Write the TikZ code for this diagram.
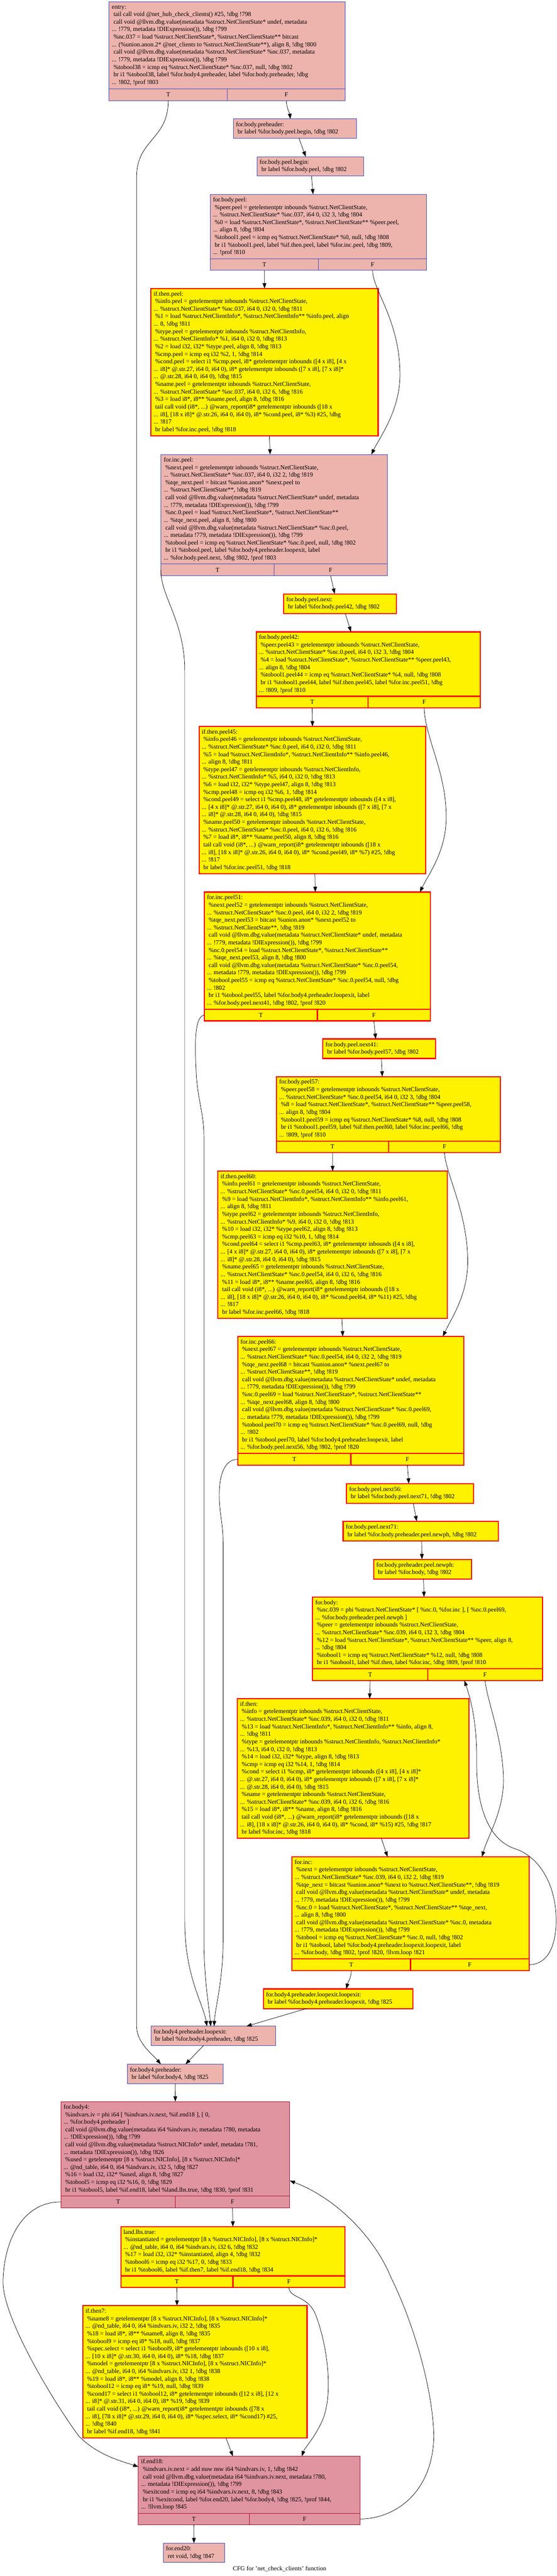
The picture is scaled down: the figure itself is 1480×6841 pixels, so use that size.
\documentclass[tikz,border=0pt]{standalone}
\usepackage{fontspec}
\setmainfont{Liberation Serif}
\usetikzlibrary{arrows.meta}
\definecolor{pinkfill}{RGB}{237,179,173}
\definecolor{pinkline}{RGB}{61,80,195}
\definecolor{critfill}{RGB}{223,148,160}
\definecolor{critline}{RGB}{183,13,40}
\newcommand{\myin}{\hspace*{4.5pt}}
\tikzset{
  pinkbox/.style={draw=pinkline, fill=pinkfill, line width=1.3pt, rectangle, inner sep=0pt, outer sep=0pt},
  critbox/.style={draw=critline, fill=critfill, line width=1.3pt, rectangle, inner sep=0pt, outer sep=0pt},
  hotbox/.style={draw=red, fill=yellow, line width=3pt, rectangle, inner sep=0pt, outer sep=0pt},
  txt/.style={anchor=west, inner sep=0pt, align=left, font=\fontsize{16.5pt}{20pt}\selectfont},
  cell/.style={minimum height=31pt, anchor=north west, font=\fontsize{16.5pt}{20pt}\selectfont},
  cfgedge/.style={draw=black, line width=1pt, -{Triangle[length=14pt,width=10pt]}}
}
\begin{document}
\begin{tikzpicture}[x=1pt, y=-1pt]
\useasboundingbox[fill=white] (0,0) rectangle (1480,6841);

% ---------- entry
\node[pinkbox, anchor=north west, minimum width=628pt, minimum height=231pt] (entry) at (290,5) {};
\node[txt] (entry-l) at ([xshift=7pt]entry.west) {entry:\\
\myin tail call void @net\_hub\_check\_clients() \#25, !dbg !798\\
\myin call void @llvm.dbg.value(metadata \%struct.NetClientState* undef, metadata\\
... !779, metadata !DIExpression()), !dbg !799\\
\myin \%nc.037 = load \%struct.NetClientState*, \%struct.NetClientState** bitcast\\
... (\%union.anon.2* @net\_clients to \%struct.NetClientState**), align 8, !dbg !800\\
\myin call void @llvm.dbg.value(metadata \%struct.NetClientState* \%nc.037, metadata\\
... !779, metadata !DIExpression()), !dbg !799\\
\myin \%tobool38 = icmp eq \%struct.NetClientState* \%nc.037, null, !dbg !802\\
\myin br i1 \%tobool38, label \%for.body4.preheader, label \%for.body.preheader, !dbg\\
... !802, !prof !803};
\node[pinkbox, cell, minimum width=314pt] (entryT) at (entry.south west) {T};
\node[pinkbox, cell, minimum width=314pt] (entryF) at (entryT.north east) {F};

% ---------- for.body.preheader
\node[pinkbox, anchor=north west, minimum width=327pt, minimum height=51pt] (fbph) at (620,316) {};
\node[txt] (fbph-l) at ([xshift=7pt]fbph.west) {for.body.preheader:\\
\myin br label \%for.body.peel.begin, !dbg !802};

% ---------- for.body.peel.begin
\node[pinkbox, anchor=north west, minimum width=283pt, minimum height=51pt] (fbpb) at (683,416) {};
\node[txt] (fbpb-l) at ([xshift=7pt]fbpb.west) {for.body.peel.begin:\\
\myin br label \%for.body.peel, !dbg !802};

% ---------- for.body.peel
\node[pinkbox, anchor=north west, minimum width=575pt, minimum height=171pt] (fbp) at (559,516) {};
\node[txt] (fbp-l) at ([xshift=7pt]fbp.west) {for.body.peel:\\
\myin \%peer.peel = getelementptr inbounds \%struct.NetClientState,\\
... \%struct.NetClientState* \%nc.037, i64 0, i32 3, !dbg !804\\
\myin \%0 = load \%struct.NetClientState*, \%struct.NetClientState** \%peer.peel,\\
... align 8, !dbg !804\\
\myin \%tobool1.peel = icmp eq \%struct.NetClientState* \%0, null, !dbg !808\\
\myin br i1 \%tobool1.peel, label \%if.then.peel, label \%for.inc.peel, !dbg !809,\\
... !prof !810};
\node[pinkbox, cell, minimum width=287.5pt] (fbpT) at (fbp.south west) {T};
\node[pinkbox, cell, minimum width=287.5pt] (fbpF) at (fbpT.north east) {F};

% ---------- if.then.peel
\node[hotbox, anchor=north west, minimum width=604pt, minimum height=391pt] (itp) at (401,766) {};
\node[txt] (itp-l) at ([xshift=7pt]itp.west) {if.then.peel:\\
\myin \%info.peel = getelementptr inbounds \%struct.NetClientState,\\
... \%struct.NetClientState* \%nc.037, i64 0, i32 0, !dbg !811\\
\myin \%1 = load \%struct.NetClientInfo*, \%struct.NetClientInfo** \%info.peel, align\\
... 8, !dbg !811\\
\myin \%type.peel = getelementptr inbounds \%struct.NetClientInfo,\\
... \%struct.NetClientInfo* \%1, i64 0, i32 0, !dbg !813\\
\myin \%2 = load i32, i32* \%type.peel, align 8, !dbg !813\\
\myin \%cmp.peel = icmp eq i32 \%2, 1, !dbg !814\\
\myin \%cond.peel = select i1 \%cmp.peel, i8* getelementptr inbounds ([4 x i8], [4 x\\
... i8]* @.str.27, i64 0, i64 0), i8* getelementptr inbounds ([7 x i8], [7 x i8]*\\
... @.str.28, i64 0, i64 0), !dbg !815\\
\myin \%name.peel = getelementptr inbounds \%struct.NetClientState,\\
... \%struct.NetClientState* \%nc.037, i64 0, i32 6, !dbg !816\\
\myin \%3 = load i8*, i8** \%name.peel, align 8, !dbg !816\\
\myin tail call void (i8*, ...) @warn\_report(i8* getelementptr inbounds ([18 x\\
... i8], [18 x i8]* @.str.26, i64 0, i64 0), i8* \%cond.peel, i8* \%3) \#25, !dbg\\
... !817\\
\myin br label \%for.inc.peel, !dbg !818};

% ---------- for.inc.peel
\node[pinkbox, anchor=north west, minimum width=601pt, minimum height=291pt] (fip) at (428,1207) {};
\node[txt] (fip-l) at ([xshift=7pt]fip.west) {for.inc.peel:\\
\myin \%next.peel = getelementptr inbounds \%struct.NetClientState,\\
... \%struct.NetClientState* \%nc.037, i64 0, i32 2, !dbg !819\\
\myin \%tqe\_next.peel = bitcast \%union.anon* \%next.peel to\\
... \%struct.NetClientState**, !dbg !819\\
\myin call void @llvm.dbg.value(metadata \%struct.NetClientState* undef, metadata\\
... !779, metadata !DIExpression()), !dbg !799\\
\myin \%nc.0.peel = load \%struct.NetClientState*, \%struct.NetClientState**\\
... \%tqe\_next.peel, align 8, !dbg !800\\
\myin call void @llvm.dbg.value(metadata \%struct.NetClientState* \%nc.0.peel,\\
... metadata !779, metadata !DIExpression()), !dbg !799\\
\myin \%tobool.peel = icmp eq \%struct.NetClientState* \%nc.0.peel, null, !dbg !802\\
\myin br i1 \%tobool.peel, label \%for.body4.preheader.loopexit, label\\
... \%for.body.peel.next, !dbg !802, !prof !803};
\node[pinkbox, cell, minimum width=300.5pt] (fipT) at (fip.south west) {T};
\node[pinkbox, cell, minimum width=300.5pt] (fipF) at (fipT.north east) {F};

% ---------- for.body.peel.next
\node[hotbox, anchor=north west, minimum width=300pt, minimum height=52pt] (fbpn) at (754,1577) {};
\node[txt] (fbpn-l) at ([xshift=7pt]fbpn.west) {for.body.peel.next:\\
\myin br label \%for.body.peel42, !dbg !802};

% ---------- for.body.peel42
\node[hotbox, anchor=north west, minimum width=595pt, minimum height=171pt] (fbp42) at (681,1678) {};
\node[txt] (fbp42-l) at ([xshift=7pt]fbp42.west) {for.body.peel42:\\
\myin \%peer.peel43 = getelementptr inbounds \%struct.NetClientState,\\
... \%struct.NetClientState* \%nc.0.peel, i64 0, i32 3, !dbg !804\\
\myin \%4 = load \%struct.NetClientState*, \%struct.NetClientState** \%peer.peel43,\\
... align 8, !dbg !804\\
\myin \%tobool1.peel44 = icmp eq \%struct.NetClientState* \%4, null, !dbg !808\\
\myin br i1 \%tobool1.peel44, label \%if.then.peel45, label \%for.inc.peel51, !dbg\\
... !809, !prof !810};
\node[hotbox, cell, minimum width=297.5pt] (fbp42T) at (fbp42.south west) {T};
\node[hotbox, cell, minimum width=297.5pt] (fbp42F) at (fbp42T.north east) {F};

% ---------- if.then.peel45
\node[hotbox, anchor=north west, minimum width=603pt, minimum height=391pt] (itp45) at (529,1929) {};
\node[txt] (itp45-l) at ([xshift=7pt]itp45.west) {if.then.peel45:\\
\myin \%info.peel46 = getelementptr inbounds \%struct.NetClientState,\\
... \%struct.NetClientState* \%nc.0.peel, i64 0, i32 0, !dbg !811\\
\myin \%5 = load \%struct.NetClientInfo*, \%struct.NetClientInfo** \%info.peel46,\\
... align 8, !dbg !811\\
\myin \%type.peel47 = getelementptr inbounds \%struct.NetClientInfo,\\
... \%struct.NetClientInfo* \%5, i64 0, i32 0, !dbg !813\\
\myin \%6 = load i32, i32* \%type.peel47, align 8, !dbg !813\\
\myin \%cmp.peel48 = icmp eq i32 \%6, 1, !dbg !814\\
\myin \%cond.peel49 = select i1 \%cmp.peel48, i8* getelementptr inbounds ([4 x i8],\\
... [4 x i8]* @.str.27, i64 0, i64 0), i8* getelementptr inbounds ([7 x i8], [7 x\\
... i8]* @.str.28, i64 0, i64 0), !dbg !815\\
\myin \%name.peel50 = getelementptr inbounds \%struct.NetClientState,\\
... \%struct.NetClientState* \%nc.0.peel, i64 0, i32 6, !dbg !816\\
\myin \%7 = load i8*, i8** \%name.peel50, align 8, !dbg !816\\
\myin tail call void (i8*, ...) @warn\_report(i8* getelementptr inbounds ([18 x\\
... i8], [18 x i8]* @.str.26, i64 0, i64 0), i8* \%cond.peel49, i8* \%7) \#25, !dbg\\
... !817\\
\myin br label \%for.inc.peel51, !dbg !818};

% ---------- for.inc.peel51
\node[hotbox, anchor=north west, minimum width=601pt, minimum height=311pt] (fip51) at (543,2369) {};
\node[txt] (fip51-l) at ([xshift=7pt]fip51.west) {for.inc.peel51:\\
\myin \%next.peel52 = getelementptr inbounds \%struct.NetClientState,\\
... \%struct.NetClientState* \%nc.0.peel, i64 0, i32 2, !dbg !819\\
\myin \%tqe\_next.peel53 = bitcast \%union.anon* \%next.peel52 to\\
... \%struct.NetClientState**, !dbg !819\\
\myin call void @llvm.dbg.value(metadata \%struct.NetClientState* undef, metadata\\
... !779, metadata !DIExpression()), !dbg !799\\
\myin \%nc.0.peel54 = load \%struct.NetClientState*, \%struct.NetClientState**\\
... \%tqe\_next.peel53, align 8, !dbg !800\\
\myin call void @llvm.dbg.value(metadata \%struct.NetClientState* \%nc.0.peel54,\\
... metadata !779, metadata !DIExpression()), !dbg !799\\
\myin \%tobool.peel55 = icmp eq \%struct.NetClientState* \%nc.0.peel54, null, !dbg\\
... !802\\
\myin br i1 \%tobool.peel55, label \%for.body4.preheader.loopexit, label\\
... \%for.body.peel.next41, !dbg !802, !prof !820};
\node[hotbox, cell, minimum width=300.5pt] (fip51T) at (fip51.south west) {T};
\node[hotbox, cell, minimum width=300.5pt] (fip51F) at (fip51T.north east) {F};

% ---------- for.body.peel.next41
\node[hotbox, anchor=north west, minimum width=300pt, minimum height=52pt] (fbpn41) at (858,2759) {};
\node[txt] (fbpn41-l) at ([xshift=7pt]fbpn41.west) {for.body.peel.next41:\\
\myin br label \%for.body.peel57, !dbg !802};

% ---------- for.body.peel57
\node[hotbox, anchor=north west, minimum width=595pt, minimum height=171pt] (fbp57) at (735,2859) {};
\node[txt] (fbp57-l) at ([xshift=7pt]fbp57.west) {for.body.peel57:\\
\myin \%peer.peel58 = getelementptr inbounds \%struct.NetClientState,\\
... \%struct.NetClientState* \%nc.0.peel54, i64 0, i32 3, !dbg !804\\
\myin \%8 = load \%struct.NetClientState*, \%struct.NetClientState** \%peer.peel58,\\
... align 8, !dbg !804\\
\myin \%tobool1.peel59 = icmp eq \%struct.NetClientState* \%8, null, !dbg !808\\
\myin br i1 \%tobool1.peel59, label \%if.then.peel60, label \%for.inc.peel66, !dbg\\
... !809, !prof !810};
\node[hotbox, cell, minimum width=297.5pt] (fbp57T) at (fbp57.south west) {T};
\node[hotbox, cell, minimum width=297.5pt] (fbp57F) at (fbp57T.north east) {F};

% ---------- if.then.peel60
\node[hotbox, anchor=north west, minimum width=610pt, minimum height=391pt] (itp60) at (579,3110) {};
\node[txt] (itp60-l) at ([xshift=7pt]itp60.west) {if.then.peel60:\\
\myin \%info.peel61 = getelementptr inbounds \%struct.NetClientState,\\
... \%struct.NetClientState* \%nc.0.peel54, i64 0, i32 0, !dbg !811\\
\myin \%9 = load \%struct.NetClientInfo*, \%struct.NetClientInfo** \%info.peel61,\\
... align 8, !dbg !811\\
\myin \%type.peel62 = getelementptr inbounds \%struct.NetClientInfo,\\
... \%struct.NetClientInfo* \%9, i64 0, i32 0, !dbg !813\\
\myin \%10 = load i32, i32* \%type.peel62, align 8, !dbg !813\\
\myin \%cmp.peel63 = icmp eq i32 \%10, 1, !dbg !814\\
\myin \%cond.peel64 = select i1 \%cmp.peel63, i8* getelementptr inbounds ([4 x i8],\\
... [4 x i8]* @.str.27, i64 0, i64 0), i8* getelementptr inbounds ([7 x i8], [7 x\\
... i8]* @.str.28, i64 0, i64 0), !dbg !815\\
\myin \%name.peel65 = getelementptr inbounds \%struct.NetClientState,\\
... \%struct.NetClientState* \%nc.0.peel54, i64 0, i32 6, !dbg !816\\
\myin \%11 = load i8*, i8** \%name.peel65, align 8, !dbg !816\\
\myin tail call void (i8*, ...) @warn\_report(i8* getelementptr inbounds ([18 x\\
... i8], [18 x i8]* @.str.26, i64 0, i64 0), i8* \%cond.peel64, i8* \%11) \#25, !dbg\\
... !817\\
\myin br label \%for.inc.peel66, !dbg !818};

% ---------- for.inc.peel66
\node[hotbox, anchor=north west, minimum width=601pt, minimum height=311pt] (fip66) at (632,3549) {};
\node[txt] (fip66-l) at ([xshift=7pt]fip66.west) {for.inc.peel66:\\
\myin \%next.peel67 = getelementptr inbounds \%struct.NetClientState,\\
... \%struct.NetClientState* \%nc.0.peel54, i64 0, i32 2, !dbg !819\\
\myin \%tqe\_next.peel68 = bitcast \%union.anon* \%next.peel67 to\\
... \%struct.NetClientState**, !dbg !819\\
\myin call void @llvm.dbg.value(metadata \%struct.NetClientState* undef, metadata\\
... !779, metadata !DIExpression()), !dbg !799\\
\myin \%nc.0.peel69 = load \%struct.NetClientState*, \%struct.NetClientState**\\
... \%tqe\_next.peel68, align 8, !dbg !800\\
\myin call void @llvm.dbg.value(metadata \%struct.NetClientState* \%nc.0.peel69,\\
... metadata !779, metadata !DIExpression()), !dbg !799\\
\myin \%tobool.peel70 = icmp eq \%struct.NetClientState* \%nc.0.peel69, null, !dbg\\
... !802\\
\myin br i1 \%tobool.peel70, label \%for.body4.preheader.loopexit, label\\
... \%for.body.peel.next56, !dbg !802, !prof !820};
\node[hotbox, cell, minimum width=300.5pt] (fip66T) at (fip66.south west) {T};
\node[hotbox, cell, minimum width=300.5pt] (fip66F) at (fip66T.north east) {F};

% ---------- for.body.peel.next56
\node[hotbox, anchor=north west, minimum width=338pt, minimum height=52pt] (fbpn56) at (921,3940) {};
\node[txt] (fbpn56-l) at ([xshift=7pt]fbpn56.west) {for.body.peel.next56:\\
\myin br label \%for.body.peel.next71, !dbg !802};

% ---------- for.body.peel.next71
\node[hotbox, anchor=north west, minimum width=412pt, minimum height=52pt] (fbpn71) at (912,4040) {};
\node[txt] (fbpn71-l) at ([xshift=7pt]fbpn71.west) {for.body.peel.next71:\\
\myin br label \%for.body.preheader.peel.newph, !dbg !802};

% ---------- for.body.preheader.peel.newph
\node[hotbox, anchor=north west, minimum width=260pt, minimum height=52pt] (newph) at (993,4141) {};
\node[txt] (newph-l) at ([xshift=7pt]newph.west) {for.body.preheader.peel.newph:\\
\myin br label \%for.body, !dbg !802};

% ---------- for.body
\node[hotbox, anchor=north west, minimum width=611pt, minimum height=191pt] (fb) at (831,4241) {};
\node[txt] (fb-l) at ([xshift=7pt]fb.west) {for.body:\\
\myin \%nc.039 = phi \%struct.NetClientState* [ \%nc.0, \%for.inc ], [ \%nc.0.peel69,\\
... \%for.body.preheader.peel.newph ]\\
\myin \%peer = getelementptr inbounds \%struct.NetClientState,\\
... \%struct.NetClientState* \%nc.039, i64 0, i32 3, !dbg !804\\
\myin \%12 = load \%struct.NetClientState*, \%struct.NetClientState** \%peer, align 8,\\
... !dbg !804\\
\myin \%tobool1 = icmp eq \%struct.NetClientState* \%12, null, !dbg !808\\
\myin br i1 \%tobool1, label \%if.then, label \%for.inc, !dbg !809, !prof !810};
\node[hotbox, cell, minimum width=305.5pt] (fbT) at (fb.south west) {T};
\node[hotbox, cell, minimum width=305.5pt] (fbF) at (fbT.north east) {F};

% ---------- if.then
\node[hotbox, anchor=north west, minimum width=615pt, minimum height=371pt] (ifthen) at (631,4511) {};
\node[txt] (ifthen-l) at ([xshift=7pt]ifthen.west) {if.then:\\
\myin \%info = getelementptr inbounds \%struct.NetClientState,\\
... \%struct.NetClientState* \%nc.039, i64 0, i32 0, !dbg !811\\
\myin \%13 = load \%struct.NetClientInfo*, \%struct.NetClientInfo** \%info, align 8,\\
... !dbg !811\\
\myin \%type = getelementptr inbounds \%struct.NetClientInfo, \%struct.NetClientInfo*\\
... \%13, i64 0, i32 0, !dbg !813\\
\myin \%14 = load i32, i32* \%type, align 8, !dbg !813\\
\myin \%cmp = icmp eq i32 \%14, 1, !dbg !814\\
\myin \%cond = select i1 \%cmp, i8* getelementptr inbounds ([4 x i8], [4 x i8]*\\
... @.str.27, i64 0, i64 0), i8* getelementptr inbounds ([7 x i8], [7 x i8]*\\
... @.str.28, i64 0, i64 0), !dbg !815\\
\myin \%name = getelementptr inbounds \%struct.NetClientState,\\
... \%struct.NetClientState* \%nc.039, i64 0, i32 6, !dbg !816\\
\myin \%15 = load i8*, i8** \%name, align 8, !dbg !816\\
\myin tail call void (i8*, ...) @warn\_report(i8* getelementptr inbounds ([18 x\\
... i8], [18 x i8]* @.str.26, i64 0, i64 0), i8* \%cond, i8* \%15) \#25, !dbg !817\\
\myin br label \%for.inc, !dbg !818};

% ---------- for.inc
\node[hotbox, anchor=north west, minimum width=630pt, minimum height=271pt] (forinc) at (776,4931) {};
\node[txt] (forinc-l) at ([xshift=7pt]forinc.west) {for.inc:\\
\myin \%next = getelementptr inbounds \%struct.NetClientState,\\
... \%struct.NetClientState* \%nc.039, i64 0, i32 2, !dbg !819\\
\myin \%tqe\_next = bitcast \%union.anon* \%next to \%struct.NetClientState**, !dbg !819\\
\myin call void @llvm.dbg.value(metadata \%struct.NetClientState* undef, metadata\\
... !779, metadata !DIExpression()), !dbg !799\\
\myin \%nc.0 = load \%struct.NetClientState*, \%struct.NetClientState** \%tqe\_next,\\
... align 8, !dbg !800\\
\myin call void @llvm.dbg.value(metadata \%struct.NetClientState* \%nc.0, metadata\\
... !779, metadata !DIExpression()), !dbg !799\\
\myin \%tobool = icmp eq \%struct.NetClientState* \%nc.0, null, !dbg !802\\
\myin br i1 \%tobool, label \%for.body4.preheader.loopexit.loopexit, label\\
... \%for.body, !dbg !802, !prof !820, !llvm.loop !821};
\node[hotbox, cell, minimum width=315pt] (forincT) at (forinc.south west) {T};
\node[hotbox, cell, minimum width=315pt] (forincF) at (forincT.north east) {F};

% ---------- for.body4.preheader.loopexit.loopexit
\node[hotbox, anchor=north west, minimum width=397pt, minimum height=52pt] (fb4plpl) at (700,5282) {};
\node[txt] (fb4plpl-l) at ([xshift=7pt]fb4plpl.west) {for.body4.preheader.loopexit.loopexit:\\
\myin br label \%for.body4.preheader.loopexit, !dbg !825};

% ---------- for.body4.preheader.loopexit
\node[pinkbox, anchor=north west, minimum width=331pt, minimum height=51pt] (fb4pl) at (401,5381) {};
\node[txt] (fb4pl-l) at ([xshift=7pt]fb4pl.west) {for.body4.preheader.loopexit:\\
\myin br label \%for.body4.preheader, !dbg !825};

% ---------- for.body4.preheader
\node[pinkbox, anchor=north west, minimum width=255pt, minimum height=51pt] (fb4ph) at (338,5482) {};
\node[txt] (fb4ph-l) at ([xshift=7pt]fb4ph.west) {for.body4.preheader:\\
\myin br label \%for.body4, !dbg !825};

% ---------- for.body4
\node[critbox, anchor=north west, minimum width=608pt, minimum height=251pt] (fb4) at (162,5581) {};
\node[txt] (fb4-l) at ([xshift=7pt]fb4.west) {for.body4:\\
\myin \%indvars.iv = phi i64 [ \%indvars.iv.next, \%if.end18 ], [ 0,\\
... \%for.body4.preheader ]\\
\myin call void @llvm.dbg.value(metadata i64 \%indvars.iv, metadata !780, metadata\\
... !DIExpression()), !dbg !799\\
\myin call void @llvm.dbg.value(metadata \%struct.NICInfo* undef, metadata !781,\\
... metadata !DIExpression()), !dbg !826\\
\myin \%used = getelementptr [8 x \%struct.NICInfo], [8 x \%struct.NICInfo]*\\
... @nd\_table, i64 0, i64 \%indvars.iv, i32 5, !dbg !827\\
\myin \%16 = load i32, i32* \%used, align 8, !dbg !827\\
\myin \%tobool5 = icmp eq i32 \%16, 0, !dbg !829\\
\myin br i1 \%tobool5, label \%if.end18, label \%land.lhs.true, !dbg !830, !prof !831};
\node[critbox, cell, minimum width=304pt] (fb4T) at (fb4.south west) {T};
\node[critbox, cell, minimum width=304pt] (fb4F) at (fb4T.north east) {F};

% ---------- land.lhs.true
\node[hotbox, anchor=north west, minimum width=596pt, minimum height=131pt] (land) at (321,5913) {};
\node[txt] (land-l) at ([xshift=7pt]land.west) {land.lhs.true:\\
\myin \%instantiated = getelementptr [8 x \%struct.NICInfo], [8 x \%struct.NICInfo]*\\
... @nd\_table, i64 0, i64 \%indvars.iv, i32 6, !dbg !832\\
\myin \%17 = load i32, i32* \%instantiated, align 4, !dbg !832\\
\myin \%tobool6 = icmp eq i32 \%17, 0, !dbg !833\\
\myin br i1 \%tobool6, label \%if.then7, label \%if.end18, !dbg !834};
\node[hotbox, cell, minimum width=298pt] (landT) at (land.south west) {T};
\node[hotbox, cell, minimum width=298pt] (landF) at (landT.north east) {F};

% ---------- if.then7
\node[hotbox, anchor=north west, minimum width=596pt, minimum height=351pt] (ifthen7) at (220,6123) {};
\node[txt] (ifthen7-l) at ([xshift=7pt]ifthen7.west) {if.then7:\\
\myin \%name8 = getelementptr [8 x \%struct.NICInfo], [8 x \%struct.NICInfo]*\\
... @nd\_table, i64 0, i64 \%indvars.iv, i32 2, !dbg !835\\
\myin \%18 = load i8*, i8** \%name8, align 8, !dbg !835\\
\myin \%tobool9 = icmp eq i8* \%18, null, !dbg !837\\
\myin \%spec.select = select i1 \%tobool9, i8* getelementptr inbounds ([10 x i8],\\
... [10 x i8]* @.str.30, i64 0, i64 0), i8* \%18, !dbg !837\\
\myin \%model = getelementptr [8 x \%struct.NICInfo], [8 x \%struct.NICInfo]*\\
... @nd\_table, i64 0, i64 \%indvars.iv, i32 1, !dbg !838\\
\myin \%19 = load i8*, i8** \%model, align 8, !dbg !838\\
\myin \%tobool12 = icmp eq i8* \%19, null, !dbg !839\\
\myin \%cond17 = select i1 \%tobool12, i8* getelementptr inbounds ([12 x i8], [12 x\\
... i8]* @.str.31, i64 0, i64 0), i8* \%19, !dbg !839\\
\myin tail call void (i8*, ...) @warn\_report(i8* getelementptr inbounds ([78 x\\
... i8], [78 x i8]* @.str.29, i64 0, i64 0), i8* \%spec.select, i8* \%cond17) \#25,\\
... !dbg !840\\
\myin br label \%if.end18, !dbg !841};

% ---------- if.end18
\node[critbox, anchor=north west, minimum width=589pt, minimum height=151pt] (ie18) at (368,6523) {};
\node[txt] (ie18-l) at ([xshift=7pt]ie18.west) {if.end18:\\
\myin \%indvars.iv.next = add nuw nsw i64 \%indvars.iv, 1, !dbg !842\\
\myin call void @llvm.dbg.value(metadata i64 \%indvars.iv.next, metadata !780,\\
... metadata !DIExpression()), !dbg !799\\
\myin \%exitcond = icmp eq i64 \%indvars.iv.next, 8, !dbg !843\\
\myin br i1 \%exitcond, label \%for.end20, label \%for.body4, !dbg !825, !prof !844,\\
... !llvm.loop !845};
\node[critbox, cell, minimum width=294.5pt] (ie18T) at (ie18.south west) {T};
\node[critbox, cell, minimum width=294.5pt] (ie18F) at (ie18T.north east) {F};

% ---------- for.end20
\node[pinkbox, anchor=north west, minimum width=163pt, minimum height=51pt] (fe20) at (434,6754) {};
\node[txt] (fe20-l) at ([xshift=7pt]fe20.west) {for.end20:\\
\myin ret void, !dbg !847};

% ---------- title
\node[font=\fontsize{16.5pt}{20pt}\selectfont, inner sep=0pt] (title) at (743,6822) {CFG for 'net\_check\_clients' function};

% ================= edges
\draw[cfgedge] (entryT.south) .. controls (448,370) and (363,370) .. (363,470) -- (363,5380) .. controls (363,5425) and (405,5455) .. ([xshift=-38pt]fb4ph.north);
\draw[cfgedge] (entryF.south) .. controls (762,290) and (770,300) .. ([xshift=-12pt]fbph.north);
\draw[cfgedge] ([xshift=11pt]fbph.south) -- ([xshift=-12pt]fbpb.north);
\draw[cfgedge] ([xshift=3.5pt]fbpb.south) -- ([xshift=-14.5pt]fbp.north);
\draw[cfgedge] (fbpT.south) -- (itp.north);
\draw[cfgedge] (fbpF.south) .. controls (990,770) and (1063,850) .. (1063,995) .. controls (1063,1090) and (1010,1160) .. ([xshift=258.5pt]fip.north);
\draw[cfgedge] ([xshift=13pt]itp.south) -- ([xshift=-10.5pt]fip.north);
\draw[cfgedge] (fipT.west) .. controls (425,1580) and (491,1650) .. (491,1780) -- (491,5100) .. controls (491,5250) and (540,5320) .. ([xshift=-16.5pt]fb4pl.north);
\draw[cfgedge] (fipF.south) -- ([xshift=-14.5pt]fbpn.north);
\draw[cfgedge] ([xshift=13.5pt]fbpn.south) -- ([xshift=-45.5pt]fbp42.north);
\draw[cfgedge] (fbp42T.south) -- (itp45.north);
\draw[cfgedge] (fbp42F.south) .. controls (1130,1960) and (1186,2050) .. (1186,2170) .. controls (1186,2260) and (1140,2320) .. ([xshift=272.5pt]fip51.north);
\draw[cfgedge] ([xshift=6.5pt]itp45.south) -- ([xshift=-5.5pt]fip51.north);
\draw[cfgedge] (fip51T.west) .. controls (515,2700) and (518,2780) .. (522,2860) .. controls (528,2930) and (542,2960) .. (542,3020) -- (542,5150) .. controls (542,5260) and (556,5330) .. ([xshift=-6.5pt]fb4pl.north);
\draw[cfgedge] (fip51F.south) -- ([xshift=-9.5pt]fbpn41.north);
\draw[cfgedge] ([xshift=5.5pt]fbpn41.south) -- ([xshift=-16.5pt]fbp57.north);
\draw[cfgedge] (fbp57T.south) -- (itp60.north);
\draw[cfgedge] (fbp57F.south) .. controls (1185,3120) and (1243,3220) .. (1243,3350) .. controls (1243,3440) and (1200,3500) .. ([xshift=244.5pt]fip66.north);
\draw[cfgedge] ([xshift=24.5pt]itp60.south) -- ([xshift=-21.5pt]fip66.north);
\draw[cfgedge] (fip66T.west) .. controls (592,3875) and (578,3930) .. (584,4000) .. controls (588,4040) and (593,4060) .. (593,4100) -- (593,5150) .. controls (593,5260) and (572,5330) .. ([xshift=2.5pt]fb4pl.north);
\draw[cfgedge] (fip66F.south) -- ([xshift=-3.5pt]fbpn56.north);
\draw[cfgedge] ([xshift=8.5pt]fbpn56.south) -- ([xshift=-10.5pt]fbpn71.north);
\draw[cfgedge] ([xshift=2.5pt]fbpn71.south) -- ([xshift=-1.5pt]newph.north);
\draw[cfgedge] ([xshift=2.5pt]newph.south) -- ([xshift=-9.5pt]fb.north);
\draw[cfgedge] (fbT.south) -- ([xshift=44pt]ifthen.north);
\draw[cfgedge] (fbF.south) .. controls (1295,4520) and (1338,4620) .. (1338,4730) .. controls (1338,4810) and (1295,4880) .. ([xshift=190pt]forinc.north);
\draw[cfgedge] ([xshift=75pt]ifthen.south) -- ([xshift=-61pt]forinc.north);
\draw[cfgedge] (forincT.south) .. controls (933,5255) and (925,5262) .. ([xshift=22pt]fb4plpl.north);
\draw[cfgedge] (forincF.east) .. controls (1460,5217) and (1478,5160) .. (1478,5100) .. controls (1478,5000) and (1430,4930) .. (1370,4910) .. controls (1300,4888) and (1266,4800) .. (1267,4680) .. controls (1268,4570) and (1250,4510) .. ([xshift=-55pt]fbF.south);
\draw[cfgedge] ([xshift=-84pt]fb4plpl.south) -- ([xshift=88.5pt]fb4pl.north);
\draw[cfgedge] ([xshift=-25.5pt]fb4pl.south) -- ([xshift=27.5pt]fb4ph.north);
\draw[cfgedge] (fb4ph.south) -- (fb4.north);
\draw[cfgedge] (fb4T.west) .. controls (60,5847) and (10,5950) .. (8,6060) .. controls (8,6160) and (150,6390) .. (210,6470) .. controls (260,6520) and (320,6535) .. ([yshift=-28pt]ie18.north west);
\draw[cfgedge] (fb4F.south) -- (land.north);
\draw[cfgedge] (landT.south) -- ([xshift=-47.5pt]ifthen7.north);
\draw[cfgedge] (landF.south) .. controls (770,6105) and (820,6095) .. (840,6150) .. controls (870,6230) and (885,6350) .. (860,6420) .. controls (840,6470) and (810,6500) .. ([xshift=139.5pt]ie18.north);
\draw[cfgedge] ([xshift=82.5pt]ifthen7.south) -- ([xshift=-43.5pt]ie18.north);
\draw[cfgedge] (ie18T.south) -- (fe20.north);
\draw[cfgedge] (ie18F.east) .. controls (1050,6689) and (1150,6620) .. (1153,6470) .. controls (1150,6330) and (1090,6150) .. (1040,6050) .. controls (1000,5950) and (900,5840) .. ([yshift=-210pt]fb4.north east);
\end{tikzpicture}
\end{document}
